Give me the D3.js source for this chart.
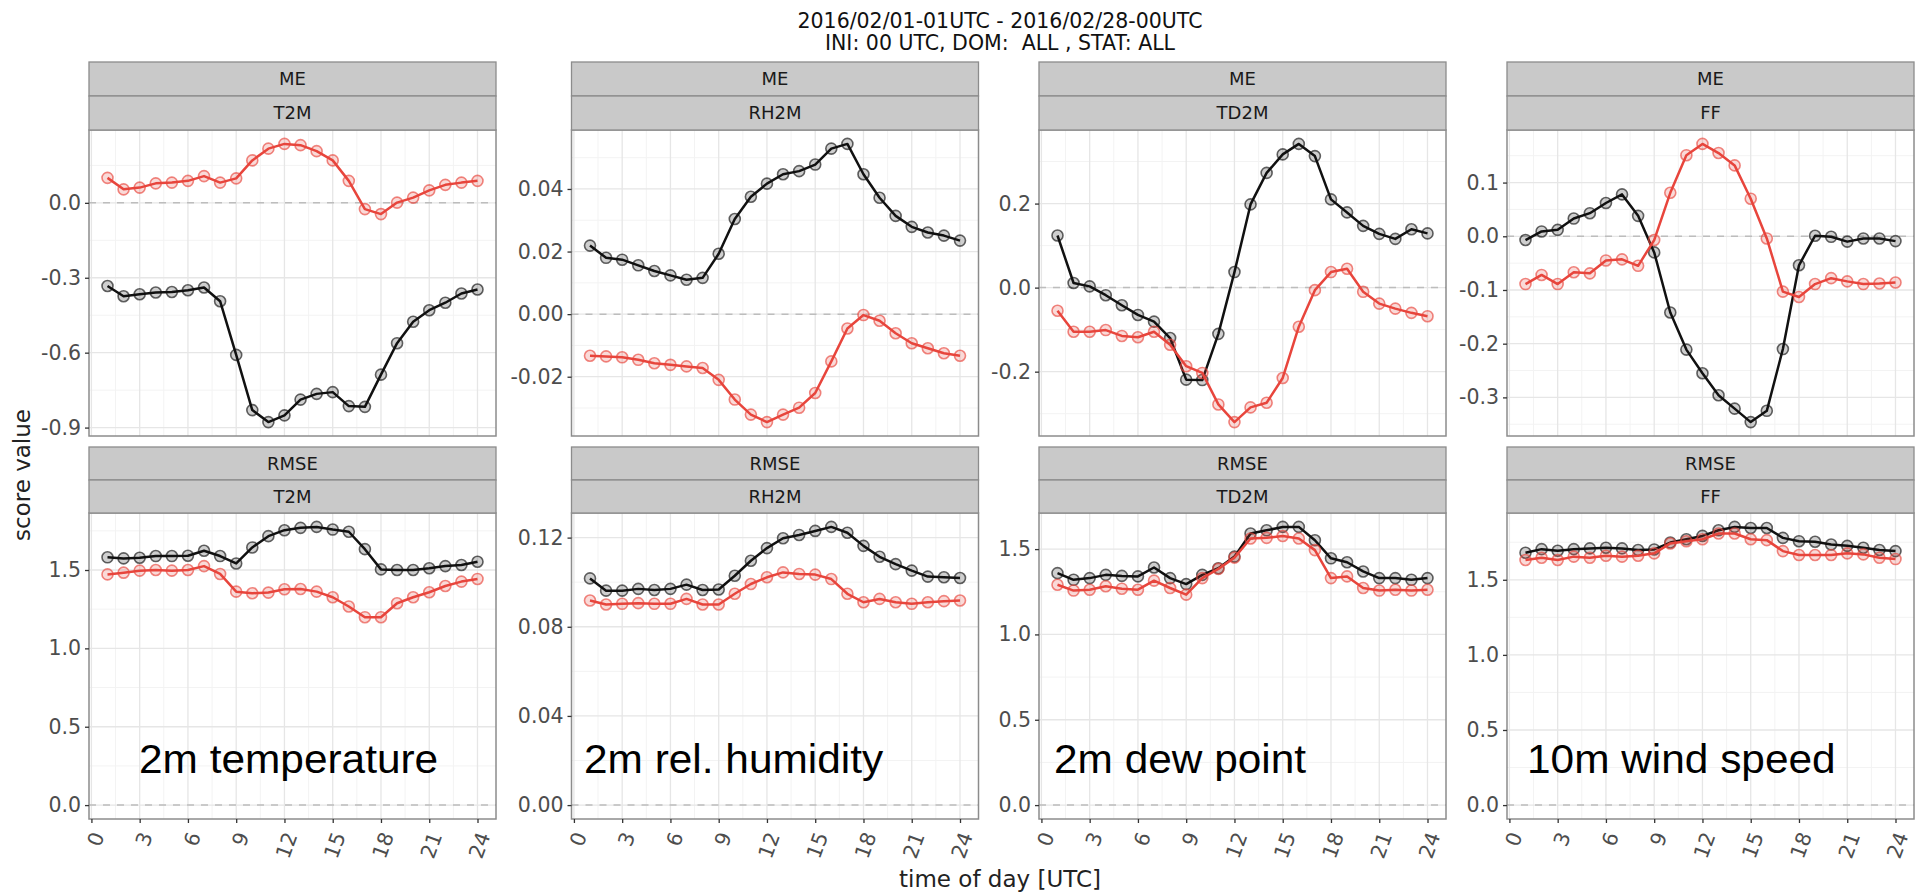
<!DOCTYPE html>
<html>
<head>
<meta charset="utf-8">
<script src="https://cdn.jsdelivr.net/npm/d3@7"></script>
<style>
	body { margin: 0; background: #fff; }
	svg { display: block; font-family: "DejaVu Sans", sans-serif; }
</style>
</head>
<body>
<svg id="chart" width="1922" height="896"></svg>
<script>
// categories
const hours = [1,2,3,4,5,6,7,8,9,10,11,12,13,14,15,16,17,18,19,20,21,22,23,24];
const xTicks = [0,3,6,9,12,15,18,21,24];
const params = ["T2M", "RH2M", "TD2M", "FF"];
const scores = ["ME", "RMSE"];
const annotations = ["2m temperature", "2m rel. humidity", "2m dew point", "10m wind speed"];
const titleLines = ["2016/02/01-01UTC - 2016/02/28-00UTC", "INI: 00 UTC, DOM:  ALL , STAT: ALL"];

// ME, black and red runs
const meT2mBlack = [-0.333,-0.374,-0.366,-0.359,-0.357,-0.350,-0.339,-0.394,-0.609,-0.830,-0.878,-0.851,-0.788,-0.765,-0.758,-0.814,-0.817,-0.688,-0.562,-0.476,-0.430,-0.400,-0.363,-0.347];
const meT2mRed = [0.100,0.054,0.061,0.078,0.081,0.088,0.107,0.081,0.098,0.170,0.217,0.236,0.231,0.207,0.170,0.088,-0.025,-0.045,0.001,0.021,0.050,0.072,0.081,0.088];
const meRh2mBlack = [0.0219,0.0180,0.0174,0.0156,0.0138,0.0124,0.0110,0.0116,0.0193,0.0304,0.0375,0.0417,0.0447,0.0457,0.0478,0.0529,0.0544,0.0447,0.0372,0.0314,0.0279,0.0261,0.0251,0.0235];
const meRh2mRed = [-0.0133,-0.0135,-0.0138,-0.0146,-0.0157,-0.0162,-0.0167,-0.0172,-0.0210,-0.0273,-0.0321,-0.0345,-0.0321,-0.0299,-0.0252,-0.0151,-0.0046,-0.0003,-0.0021,-0.0061,-0.0093,-0.0109,-0.0125,-0.0133];
const meTd2mBlack = [0.124,0.011,0.003,-0.018,-0.042,-0.065,-0.081,-0.120,-0.219,-0.220,-0.110,0.037,0.198,0.273,0.317,0.342,0.313,0.210,0.179,0.147,0.128,0.116,0.139,0.129];
const meTd2mRed = [-0.055,-0.105,-0.105,-0.101,-0.115,-0.118,-0.105,-0.136,-0.187,-0.203,-0.278,-0.320,-0.285,-0.274,-0.215,-0.093,-0.006,0.037,0.045,-0.010,-0.038,-0.050,-0.060,-0.068];
const meFfBlack = [-0.007,0.009,0.012,0.033,0.043,0.062,0.078,0.038,-0.030,-0.142,-0.211,-0.255,-0.296,-0.321,-0.346,-0.325,-0.210,-0.054,0.001,-0.001,-0.010,-0.004,-0.004,-0.009];
const meFfRed = [-0.089,-0.072,-0.089,-0.067,-0.069,-0.045,-0.043,-0.055,-0.007,0.081,0.151,0.172,0.155,0.132,0.070,-0.004,-0.103,-0.113,-0.089,-0.078,-0.084,-0.089,-0.088,-0.086];

// RMSE, black and red runs
const rmseT2mBlack = [1.581,1.574,1.578,1.589,1.589,1.591,1.623,1.589,1.542,1.644,1.716,1.754,1.769,1.775,1.758,1.744,1.633,1.504,1.500,1.500,1.511,1.525,1.532,1.553];
const rmseT2mRed = [1.472,1.483,1.496,1.500,1.496,1.500,1.525,1.475,1.362,1.352,1.356,1.377,1.379,1.362,1.326,1.267,1.199,1.199,1.288,1.326,1.358,1.398,1.426,1.443];
const rmseRh2mBlack = [0.1017,0.0962,0.0962,0.0970,0.0965,0.0970,0.0989,0.0965,0.0967,0.1029,0.1096,0.1153,0.1197,0.1212,0.1230,0.1248,0.1222,0.1163,0.1114,0.1081,0.1052,0.1025,0.1022,0.1019];
const rmseRh2mRed = [0.0918,0.0900,0.0903,0.0906,0.0903,0.0903,0.0925,0.0900,0.0900,0.0948,0.0992,0.1022,0.1044,0.1037,0.1034,0.1014,0.0948,0.0910,0.0925,0.0910,0.0903,0.0910,0.0915,0.0918];
const rmseTd2mBlack = [1.359,1.320,1.330,1.349,1.343,1.340,1.392,1.330,1.295,1.349,1.388,1.456,1.591,1.610,1.630,1.630,1.552,1.446,1.423,1.369,1.330,1.330,1.320,1.330];
const rmseTd2mRed = [1.291,1.257,1.262,1.282,1.268,1.262,1.315,1.272,1.233,1.330,1.384,1.450,1.562,1.566,1.577,1.562,1.494,1.330,1.340,1.272,1.257,1.262,1.257,1.262];
const rmseFfBlack = [1.680,1.704,1.693,1.704,1.709,1.713,1.709,1.698,1.702,1.748,1.770,1.792,1.830,1.852,1.845,1.845,1.779,1.757,1.753,1.735,1.726,1.713,1.698,1.691];
const rmseFfRed = [1.632,1.647,1.632,1.654,1.647,1.660,1.654,1.660,1.676,1.742,1.757,1.770,1.808,1.808,1.770,1.764,1.691,1.665,1.665,1.665,1.676,1.669,1.647,1.638];

// y tick labels per panel
const meTicks = [[-0.9,-0.6,-0.3,0.0], [-0.02,0.00,0.02,0.04], [-0.2,0.0,0.2], [-0.3,-0.2,-0.1,0.0,0.1]];
const rmseTicks = [[0.0,0.5,1.0,1.5], [0.00,0.04,0.08,0.12], [0.0,0.5,1.0,1.5], [0.0,0.5,1.0,1.5]];
const tickDigits = [1, 2, 1, 1];

// layout
const colLeft = [89, 571.5, 1039, 1507];
const noteLeft = [139, 584, 1054, 1527];
const panelW = 407;
const rowBox = [{stripTop: 62, stripH: 34, top: 130, bottom: 436}, {stripTop: 447, stripH: 33, top: 513, bottom: 819}];
const blackCol = "#111111", redCol = "#E8453C";

whenDocumentLoaded(() => {
	const svg = d3.select("#chart");
	const series = [
		[[meT2mBlack, meT2mRed], [meRh2mBlack, meRh2mRed], [meTd2mBlack, meTd2mRed], [meFfBlack, meFfRed]],
		[[rmseT2mBlack, rmseT2mRed], [rmseRh2mBlack, rmseRh2mRed], [rmseTd2mBlack, rmseTd2mRed], [rmseFfBlack, rmseFfRed]]
	];
	const ticks = [meTicks, rmseTicks];

	for (let r = 0; r < 2; r++) {
		for (let c = 0; c < 4; c++) {
			drawPanel(svg, colLeft[c], rowBox[r], scores[r], params[c], series[r][c], ticks[r][c], tickDigits[c], r == 1);
		}
	}

	// notes in the lower panels
	annotations.forEach((t, c) => {
		svg.append("text")
			.attr("transform", `translate(${noteLeft[c]},773) scale(1.06,1)`)
			.style("font-family", "'Liberation Sans', Arial, sans-serif")
			.style("font-size", "40px")
			.attr("fill", "#000")
			.text(t);
	});

	// title
	titleLines.forEach((t, i) => {
		svg.append("text")
			.attr("x", 1000).attr("y", 28 + i * 22)
			.attr("text-anchor", "middle")
			.style("font-size", "20.5px")
			.style("white-space", "pre")
			.attr("fill", "#111")
			.text(t);
	});

	// axis titles
	svg.append("text")
		.attr("x", 1000).attr("y", 887)
		.attr("text-anchor", "middle")
		.style("font-size", "23px")
		.attr("fill", "#222")
		.text("time of day [UTC]");
	svg.append("text")
		.attr("transform", "translate(30,475) rotate(-90)")
		.attr("text-anchor", "middle")
		.style("font-size", "23px")
		.attr("fill", "#222")
		.text("score value");
});

function drawPanel(svg, left, box, score, param, pair, tickVals, digits, showX) {
	const right = left + panelW;
	const x = d3.scaleLinear().domain([-0.15, 25.15]).range([left, right]);
	const all = pair[0].concat(pair[1], [0]);
	const lo = d3.min(all), hi = d3.max(all), pad = (hi - lo) * 0.05;
	const y = d3.scaleLinear().domain([lo - pad, hi + pad]).range([box.bottom, box.top]);

	const g = svg.append("g");
	g.append("rect")
		.attr("x", left).attr("y", box.top)
		.attr("width", panelW).attr("height", box.bottom - box.top)
		.attr("fill", "#fff");

	// minor grid
	const step = tickVals[1] - tickVals[0];
	let yMinor = [tickVals[0] - step / 2].concat(tickVals.map(v => v + step / 2));
	yMinor = yMinor.filter(v => v > y.domain()[0] && v < y.domain()[1]);
	const xMinor = xTicks.slice(0, -1).map(v => v + 1.5);
	g.append("g").selectAll("line").data(xMinor).join("line")
		.attr("x1", d => x(d)).attr("x2", d => x(d))
		.attr("y1", box.top).attr("y2", box.bottom)
		.attr("stroke", "#F3F3F3").attr("stroke-width", 1);
	g.append("g").selectAll("line").data(yMinor).join("line")
		.attr("x1", left).attr("x2", right)
		.attr("y1", d => y(d)).attr("y2", d => y(d))
		.attr("stroke", "#F3F3F3").attr("stroke-width", 1);

	// major grid
	g.append("g").selectAll("line").data(xTicks).join("line")
		.attr("x1", d => x(d)).attr("x2", d => x(d))
		.attr("y1", box.top).attr("y2", box.bottom)
		.attr("stroke", "#E6E6E6").attr("stroke-width", 1.3);
	g.append("g").selectAll("line").data(tickVals).join("line")
		.attr("x1", left).attr("x2", right)
		.attr("y1", d => y(d)).attr("y2", d => y(d))
		.attr("stroke", "#E6E6E6").attr("stroke-width", 1.3);

	// zero line
	g.append("line")
		.attr("x1", left).attr("x2", right)
		.attr("y1", y(0)).attr("y2", y(0))
		.attr("stroke", "#BDBDBD").attr("stroke-width", 1.5)
		.attr("stroke-dasharray", "7,7");

	// lines and points
	const line = d3.line().x((d, i) => x(hours[i])).y(d => y(d));
	[[pair[0], blackCol], [pair[1], redCol]].forEach(([vals, col]) => {
		g.append("path")
			.attr("d", line(vals))
			.attr("fill", "none")
			.attr("stroke", col)
			.attr("stroke-width", 2.5)
			.attr("stroke-linejoin", "round");
		g.append("g").selectAll("circle").data(vals).join("circle")
			.attr("cx", (d, i) => x(hours[i]))
			.attr("cy", d => y(d))
			.attr("r", 5.5)
			.attr("fill", col).attr("fill-opacity", 0.2)
			.attr("stroke", col).attr("stroke-opacity", 0.65)
			.attr("stroke-width", 1.6);
	});

	// border
	g.append("rect")
		.attr("x", left).attr("y", box.top)
		.attr("width", panelW).attr("height", box.bottom - box.top)
		.attr("fill", "none").attr("stroke", "#8C8C8C").attr("stroke-width", 1.5);

	// strips
	[score, param].forEach((label, i) => {
		const top = box.stripTop + i * box.stripH;
		g.append("rect")
			.attr("x", left).attr("y", top)
			.attr("width", panelW).attr("height", box.stripH)
			.attr("fill", "#C9C9C9").attr("stroke", "#8C8C8C").attr("stroke-width", 1.3);
		g.append("text")
			.attr("x", left + panelW / 2).attr("y", top + box.stripH / 2)
			.attr("dy", "0.36em")
			.attr("text-anchor", "middle")
			.style("font-size", "18px")
			.attr("fill", "#1A1A1A")
			.text(label);
	});

	// y axis
	const ya = g.append("g")
		.attr("transform", `translate(${left},0)`)
		.call(d3.axisLeft(y).tickValues(tickVals).tickSize(4).tickPadding(4).tickFormat(d => d.toFixed(digits)));
	styleAxis(ya);

	// x axis on the lower row only
	if (showX) {
		const xa = g.append("g")
			.attr("transform", `translate(0,${box.bottom})`)
			.call(d3.axisBottom(x).tickValues(xTicks).tickSize(4));
		styleAxis(xa);
		xa.selectAll("text")
			.attr("x", 0).attr("y", 0).attr("dy", "0.35em")
			.attr("text-anchor", "end")
			.attr("transform", "translate(6,14) rotate(-70)");
	}
}

function styleAxis(a) {
	a.select(".domain").remove();
	a.selectAll(".tick line").attr("stroke", "#333").attr("stroke-width", 1.3);
	a.selectAll("text")
		.style("font-family", "'DejaVu Sans', sans-serif")
		.style("font-size", "20.5px")
		.attr("fill", "#4D4D4D");
}

function whenDocumentLoaded(action) {
	if (document.readyState === "loading") {
		document.addEventListener("DOMContentLoaded", action);
	} else {
		action();
	}
}
</script>
</body>
</html>
